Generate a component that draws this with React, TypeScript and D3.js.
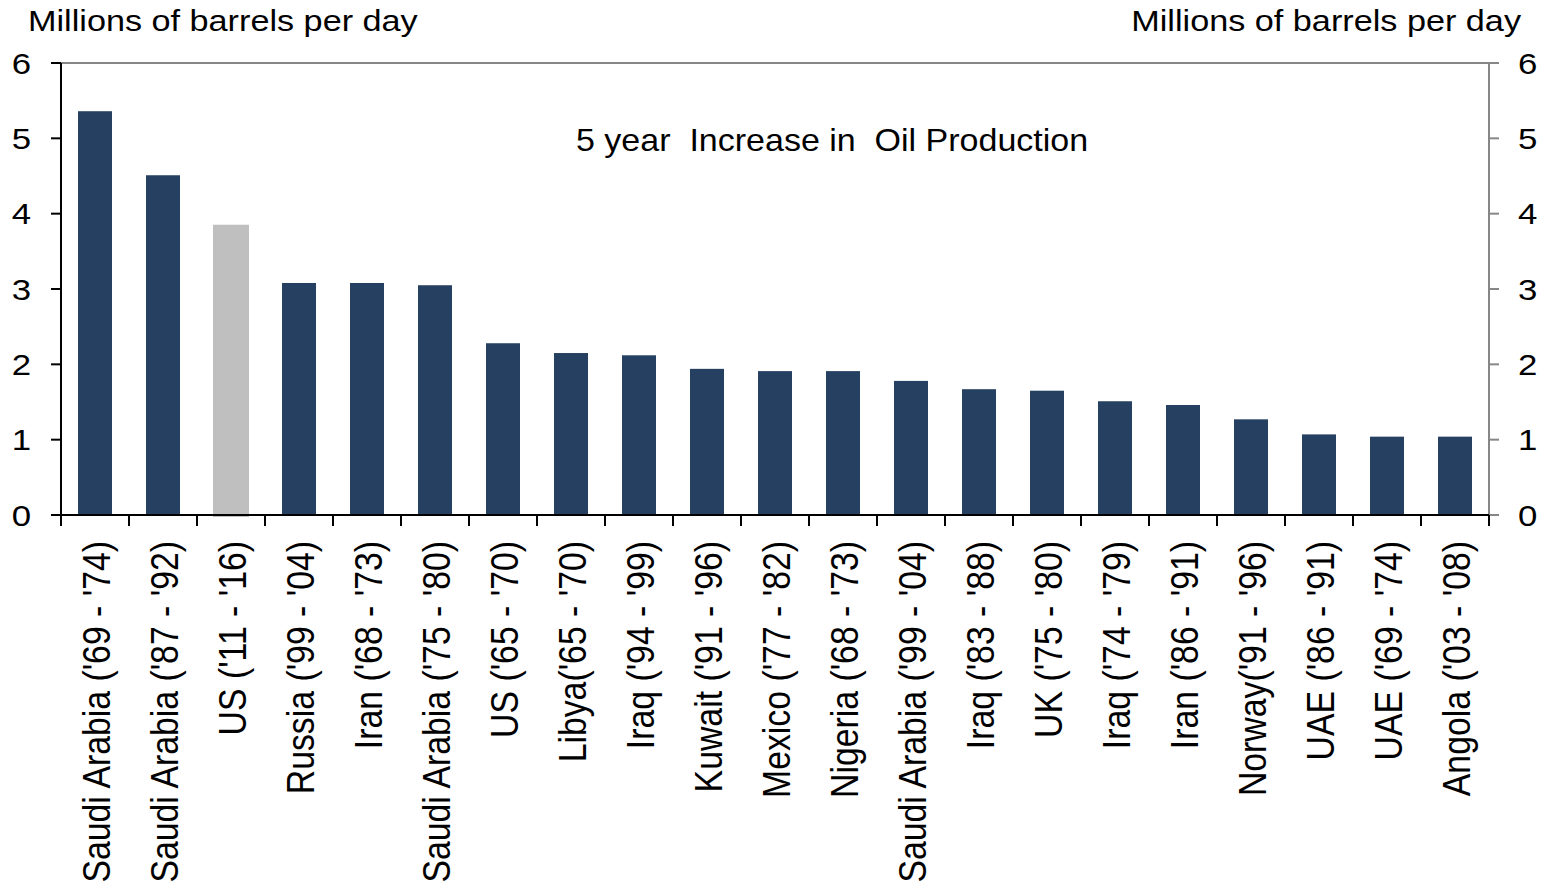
import React from 'react';
import * as d3 from 'd3';

const categories = [
  "Saudi Arabia ('69 - '74)",
  "Saudi Arabia ('87 - '92)",
  "US ('11 - '16)",
  "Russia ('99 - '04)",
  "Iran ('68 - '73)",
  "Saudi Arabia ('75 - '80)",
  "US ('65 - '70)",
  "Libya('65 - '70)",
  "Iraq ('94 - '99)",
  "Kuwait ('91 - '96)",
  "Mexico ('77 - '82)",
  "Nigeria ('68 - '73)",
  "Saudi Arabia ('99 - '04)",
  "Iraq ('83 - '88)",
  "UK ('75 - '80)",
  "Iraq ('74 - '79)",
  "Iran ('86 - '91)",
  "Norway('91 - '96)",
  "UAE ('86 - '91)",
  "UAE ('69 - '74)",
  "Angola ('03 - '08)",
];

const values = [
  5.36, 4.51, 3.84, 3.08, 3.08, 3.05, 2.28, 2.15, 2.12, 1.94, 1.91,
  1.91, 1.78, 1.67, 1.65, 1.51, 1.46, 1.27, 1.07, 1.04, 1.04,
];

const highlighted = ["US ('11 - '16)"];
const yTicks = [0, 1, 2, 3, 4, 5, 6];
const chartTitle = '5 year  Increase in  Oil Production';
const axisTitle = 'Millions of barrels per day';

export default function App() {
  const W = 1549;
  const H = 885;
  const x0 = 61;
  const x1 = 1489;
  const yTop = 63;
  const yBot = 515;
  const font = "'Liberation Sans', Arial, sans-serif";
  const navy = '#264062';
  const grey = '#BFBFBF';
  const axisGrey = '#878787';

  const x = d3
    .scaleBand<string>()
    .domain(categories)
    .range([x0, x1])
    .paddingInner(0.5)
    .paddingOuter(0.25);
  const y = d3.scaleLinear().domain([0, 6]).range([yBot, yTop]);
  const step = x.step();
  const bw = x.bandwidth();
  const boundaries = d3.range(categories.length + 1).map((i) => x0 + i * step);

  return (
    <svg
      width={W}
      height={H}
      style={{ position: 'absolute', left: 0, top: 0, background: '#fff' }}
      fontFamily={font}
    >
      <rect x={0} y={0} width={W} height={H} fill="#fff" />
      {categories.map((c, i) => {
        const hl = highlighted.includes(c);
        const bx = x(c) as number;
        if (hl) {
          return (
            <rect
              key={c}
              x={bx - 1}
              y={y(values[i]) - 1}
              width={bw + 2}
              height={yBot - y(values[i]) + 3}
              fill={grey}
            />
          );
        }
        return (
          <rect
            key={c}
            x={bx}
            y={y(values[i])}
            width={bw}
            height={yBot - y(values[i])}
            fill={navy}
          />
        );
      })}
      <line x1={x0} x2={x1 + 10} y1={yTop} y2={yTop} stroke={axisGrey} strokeWidth={2} />
      <line x1={x1} x2={x1} y1={yTop} y2={yBot} stroke={axisGrey} strokeWidth={2} />
      {yTicks.map((t) => (
        <line key={'rt' + t} x1={x1} x2={x1 + 10} y1={y(t)} y2={y(t)} stroke={axisGrey} strokeWidth={2} />
      ))}
      <line x1={x0} x2={x0} y1={yTop} y2={yBot} stroke="#000" strokeWidth={2} />
      {yTicks.map((t) => (
        <line key={'lt' + t} x1={x0 - 10} x2={x0} y1={y(t)} y2={y(t)} stroke="#000" strokeWidth={2} />
      ))}
      <line x1={x0 - 10} x2={x1} y1={yBot} y2={yBot} stroke="#000" strokeWidth={2} />
      {boundaries.map((b, i) => (
        <line key={'bt' + i} x1={b} x2={b} y1={yBot} y2={yBot + 11} stroke="#000" strokeWidth={2} />
      ))}
      {yTicks.map((t) => (
        <text
          key={'ll' + t}
          transform={`translate(31,${y(t)}) scale(1.2,1)`}
          dy={10.5}
          textAnchor="end"
          fontSize={29}
          fill="#000"
        >
          {t}
        </text>
      ))}
      {yTicks.map((t) => (
        <text
          key={'rl' + t}
          transform={`translate(1518,${y(t)}) scale(1.2,1)`}
          dy={10.5}
          textAnchor="start"
          fontSize={29}
          fill="#000"
        >
          {t}
        </text>
      ))}
      {categories.map((c) => {
        const cx = (x(c) as number) + bw / 2;
        return (
          <text
            key={'cl' + c}
            transform={`translate(${cx + 15},541) scale(1.15,1) rotate(-90)`}
            textAnchor="end"
            fontSize={33.8}
            fill="#000"
            style={{ whiteSpace: 'pre' }}
          >
            {c}
          </text>
        );
      })}
      <text
        transform="translate(28,30.5) scale(1.18,1)"
        fontSize={29}
        fill="#000"
        style={{ whiteSpace: 'pre' }}
      >
        {axisTitle}
      </text>
      <text
        transform="translate(1521,30.5) scale(1.18,1)"
        fontSize={29}
        textAnchor="end"
        fill="#000"
        style={{ whiteSpace: 'pre' }}
      >
        {axisTitle}
      </text>
      <text
        transform="translate(576,151) scale(1.08,1)"
        fontSize={31.5}
        fill="#000"
        style={{ whiteSpace: 'pre' }}
      >
        {chartTitle}
      </text>
    </svg>
  );
}
